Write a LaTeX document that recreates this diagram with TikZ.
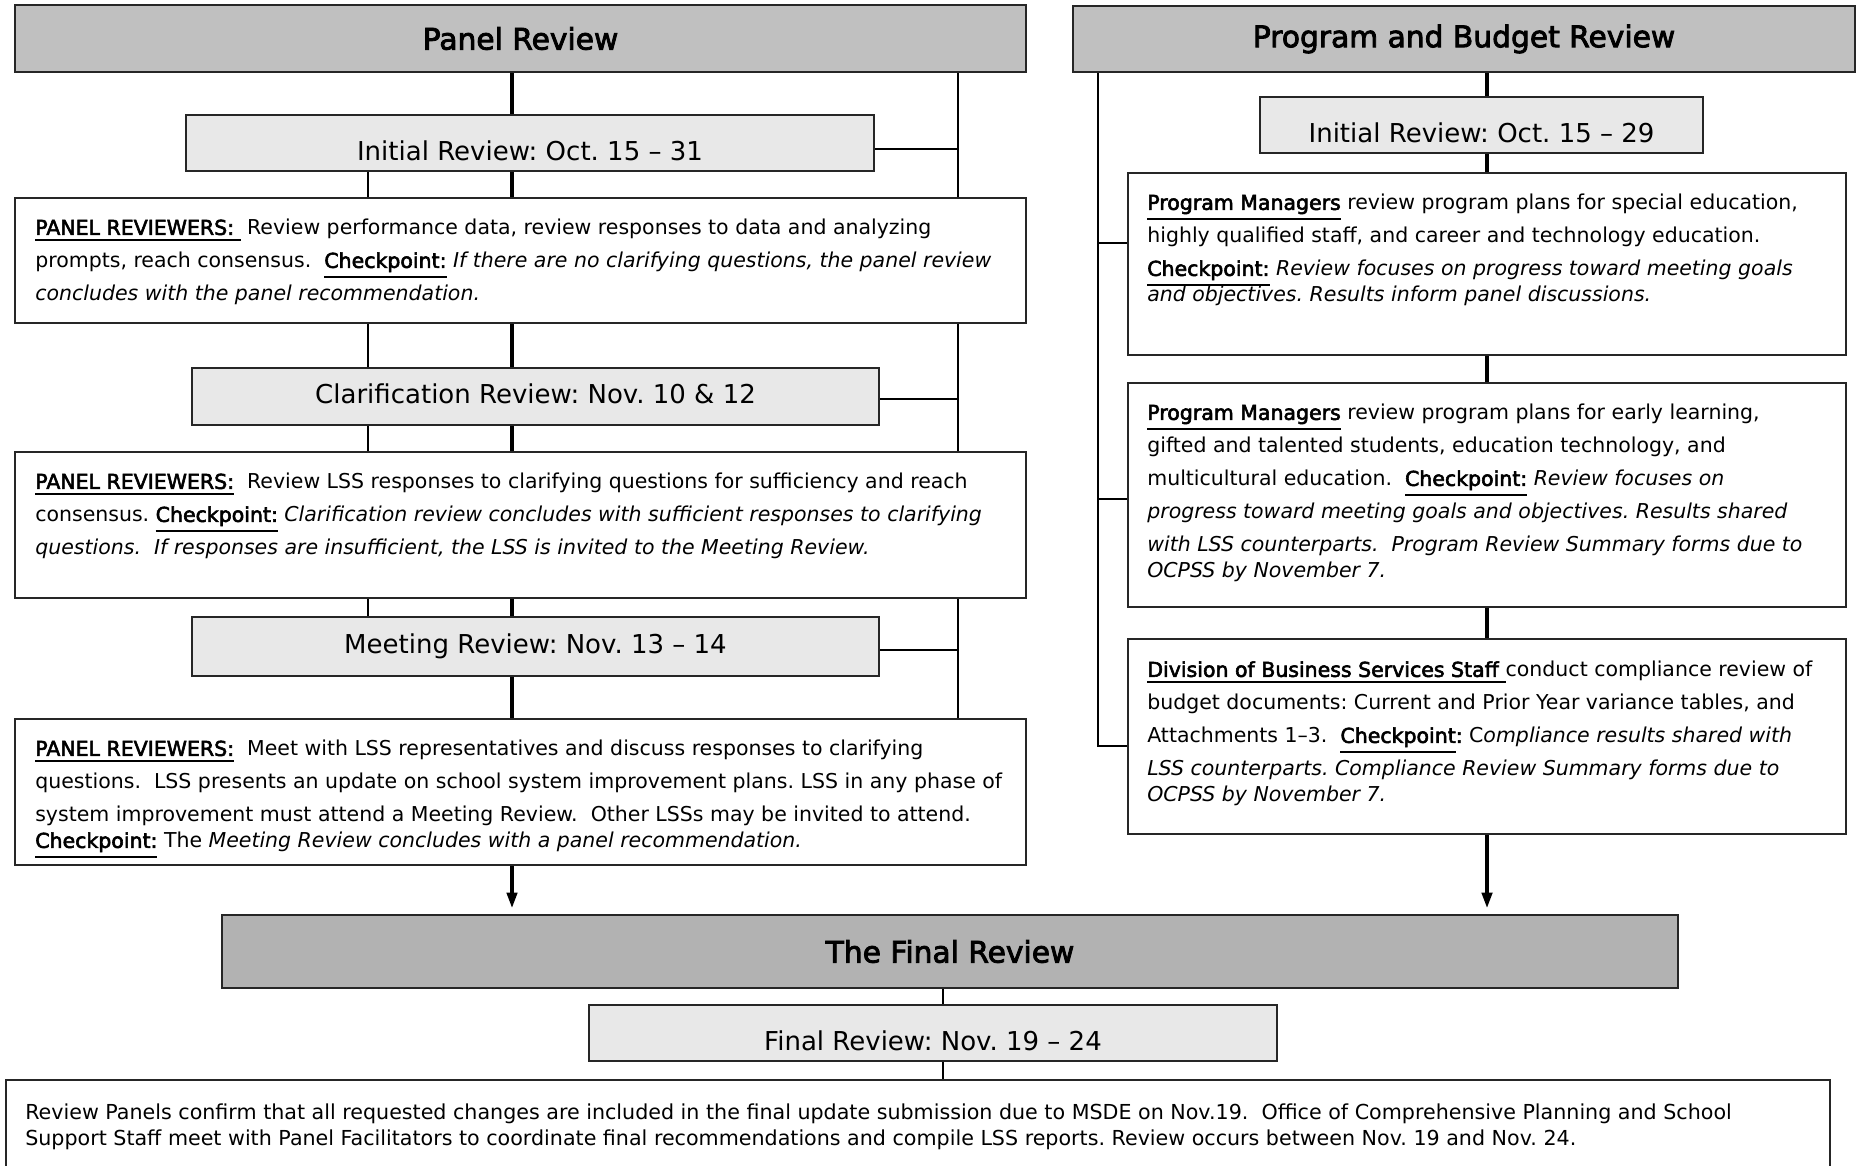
\documentclass[tikz,border=0pt]{standalone}
\usepackage{fontspec}
\setmainfont{DejaVu Sans}[BoldFont=DejaVu Sans,BoldFeatures={FakeBold=2.8}]
\usepackage{tikz}
\usetikzlibrary{arrows.meta,positioning,calc,backgrounds}
\definecolor{hgrey}{HTML}{C0C0C0}
\definecolor{fgrey}{HTML}{B2B2B2}
\definecolor{lgrey}{HTML}{E8E8E8}
\newcommand{\ulb}[1]{\underline{\textbf{#1}}}
\frenchspacing
\tikzset{
  hdr/.style={draw=black!85,line width=0.8pt,fill=hgrey,inner sep=0pt,
              font=\fontsize{8.45}{10}\selectfont\bfseries},
  dbox/.style={draw=black!85,line width=0.8pt,fill=lgrey,inner sep=0pt,
               font=\fontsize{7.4}{9}\selectfont,text height=0.194cm,text depth=0.06cm},
  low/.style={text height=0.41cm},
  tbox/.style={draw=black!85,line width=0.8pt,fill=white,inner sep=0pt},
  body/.style={font=\fontsize{5.83}{9.39}\selectfont,align=left,inner sep=0pt},
  spine/.style={line width=1.15pt},
  thn/.style={line width=0.6pt},
  arr/.style={spine,-{Triangle[length=0.16cm,width=0.1cm]}},
}
\begin{document}
\begin{tikzpicture}
\useasboundingbox (0,0) rectangle (18.60,-11.65);
\coordinate (pmain) at (5.12,0);
\coordinate (pleft) at (3.68,0);
\coordinate (pright) at (9.58,0);
\coordinate (bmain) at (14.87,0);
\coordinate (bleft) at (10.98,0);
\coordinate (fmain) at (9.43,0);
% panel review column
\node[hdr,minimum width=10.11cm,minimum height=0.67cm] (prhead) at (5.205,-0.385) {Panel Review};
\node[dbox,low,minimum width=6.88cm,minimum height=0.56cm] (pinit) at (5.30,-1.43) {Initial Review: Oct. 15 – 31};
\node[tbox,minimum width=10.11cm,minimum height=1.25cm] (pnl1) at (5.205,-2.605) {};
\node[body,below right=0.22cm and 0.21cm of pnl1.north west] (pnl1txt)
  {\underline{\textbf{PANEL REVIEWERS:}\ }\ Review performance data, review responses to data and analyzing\\
   prompts, reach consensus.~ \ulb{Checkpoint:} \textit{If there are no clarifying questions, the panel review}\\
   \textit{concludes with the panel recommendation.}};
\node[dbox,minimum width=6.87cm,minimum height=0.57cm] (pclar) at (5.355,-3.965) {Clarification Review: Nov. 10 \& 12};
\node[tbox,minimum width=10.11cm,minimum height=1.46cm] (pnl2) at (5.205,-5.25) {};
\node[body,below right=0.22cm and 0.21cm of pnl2.north west] (pnl2txt)
  {\ulb{PANEL REVIEWERS:}~ Review LSS responses to clarifying questions for sufficiency and reach\\
   consensus. \ulb{Checkpoint:} \textit{Clarification review concludes with sufficient responses to clarifying}\\
   \textit{questions.~ If responses are insufficient, the LSS is invited to the Meeting Review.}};
\node[dbox,minimum width=6.87cm,minimum height=0.59cm] (pmeet) at (5.355,-6.465) {Meeting Review: Nov. 13 – 14};
\node[tbox,minimum width=10.11cm,minimum height=1.46cm] (pnl3) at (5.205,-7.92) {};
\node[body,below right=0.22cm and 0.21cm of pnl3.north west] (pnl3txt)
  {\ulb{PANEL REVIEWERS:}~ Meet with LSS representatives and discuss responses to clarifying\\
   questions.~ LSS presents an update on school system improvement plans. LSS in any phase of\\
   system improvement must attend a Meeting Review.~ Other LSSs may be invited to attend.\\[-0.07cm]
   \ulb{Checkpoint:} The \textit{Meeting Review concludes with a panel recommendation.}};
% program and budget column
\node[hdr,minimum width=7.82cm,minimum height=0.66cm] (bhead) at (14.64,-0.39) {Program and Budget Review};
\node[dbox,low,minimum width=4.43cm,minimum height=0.56cm] (binit) at (14.815,-1.25) {Initial Review: Oct. 15 – 29};
\node[tbox,minimum width=7.18cm,minimum height=1.82cm] (bpm1) at (14.87,-2.64) {};
\node[body,below right=0.22cm and 0.20cm of bpm1.north west] (bpm1txt)
  {\ulb{Program Managers} review program plans for special education,\\
   highly qualified staff, and career and technology education.\\
   \ulb{Checkpoint:} \textit{Review focuses on progress toward meeting goals}\\[-0.07cm]
   \textit{and objectives. Results inform panel discussions.}};
\node[tbox,minimum width=7.18cm,minimum height=2.24cm] (bpm2) at (14.87,-4.95) {};
\node[body,below right=0.22cm and 0.20cm of bpm2.north west] (bpm2txt)
  {\ulb{Program Managers} review program plans for early learning,\\
   gifted and talented students, education technology, and\\
   multicultural education.~ \ulb{Checkpoint:} \textit{Review focuses on}\\
   \textit{progress toward meeting goals and objectives. Results shared}\\
   \textit{with LSS counterparts.~ Program Review Summary forms due to}\\[-0.07cm]
   \textit{OCPSS by November 7.}};
\node[tbox,minimum width=7.18cm,minimum height=1.95cm] (bdbs) at (14.87,-7.365) {};
\node[body,below right=0.23cm and 0.20cm of bdbs.north west] (bdbstxt)
  {\underline{\textbf{Division of Business Services Staff}\ }conduct compliance review of\\
   budget documents: Current and Prior Year variance tables, and\\
   Attachments 1–3.~ \ulb{Checkpoint}\textbf{:} C\textit{ompliance results shared with}\\
   \textit{LSS counterparts. Compliance Review Summary forms due to}\\[-0.07cm]
   \textit{OCPSS by November 7.}};
% final review
\node[hdr,fill=fgrey,minimum width=14.56cm,minimum height=0.73cm] (fhead) at (9.50,-9.515) {The Final Review};
\node[dbox,low,minimum width=6.88cm,minimum height=0.56cm] (finit) at (9.33,-10.33) {Final Review: Nov. 19 – 24};
\node[tbox,minimum width=18.24cm,minimum height=1.0cm] (fsum) at (9.18,-11.30) {};
\node[body,font=\fontsize{5.87}{7.4}\selectfont,below right=0.24cm and 0.20cm of fsum.north west] (fsumtxt)
  {Review Panels confirm that all requested changes are included in the final update submission due to MSDE on Nov.19.~ Office of Comprehensive Planning and School\\
   Support Staff meet with Panel Facilitators to coordinate final recommendations and compile LSS reports. Review occurs between Nov. 19 and Nov. 24.};
% connectors
\begin{scope}[on background layer]
\draw[spine] (prhead.south -| pmain) -- (pnl3.south -| pmain);
\draw[thn] (pinit.south -| pleft) -- (pmeet.north -| pleft);
\draw[thn] (prhead.south -| pright) -- (pnl3.north -| pright);
\draw[thn] ($(pinit.east)+(0,-0.06)$) -- ++(0.84,0);
\draw[thn] ($(pclar.east)+(0,-0.025)$) -- ++(0.79,0);
\draw[thn] ($(pmeet.east)+(0,-0.035)$) -- ++(0.79,0);
\draw[spine] (bhead.south -| bmain) -- (bdbs.south -| bmain);
\draw[thn] (bhead.south -| bleft) |- ($(bdbs.west)+(0,-0.095)$);
\draw[thn] ($(bpm1.west)+(0,0.21)$) -- ++(-0.30,0);
\draw[thn] ($(bpm2.west)+(0,-0.04)$) -- ++(-0.30,0);
\draw[thn] (fhead.south -| fmain) -- (fsum.north -| fmain);
\end{scope}
\draw[arr,shorten >=0.05cm] (pnl3.south -| pmain) -- (fhead.north -| pmain);
\draw[arr,shorten >=0.05cm] (bdbs.south -| bmain) -- (fhead.north -| bmain);
\end{tikzpicture}
\end{document}
